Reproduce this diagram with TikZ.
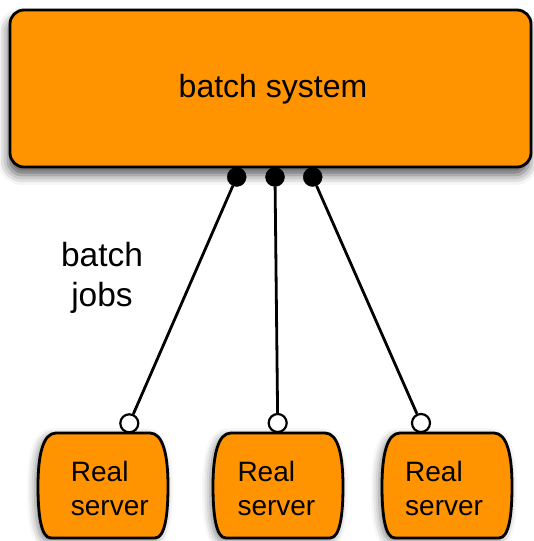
\documentclass[tikz,border=0pt]{standalone}
\usepackage{fontspec}
\setmainfont{Liberation Sans}
\usetikzlibrary{shadows.blur}
\definecolor{boxorange}{RGB}{255,147,0}
\tikzset{
  shade box/.style={blur shadow={shadow xshift=-2pt, shadow yshift=-8pt,
      shadow blur radius=10pt, shadow opacity=65}},
  shade server/.style={blur shadow={shadow xshift=-3pt, shadow yshift=-3pt,
      shadow blur radius=8pt, shadow opacity=50}},
  mainbox/.style={draw=black, line width=2.8pt, fill=boxorange,
      rounded corners=14pt, shade box},
  serverbody/.style={draw=black, line width=2.8pt, fill=boxorange, shade server},
  portfilled/.style={circle, fill=black, draw=black, inner sep=0pt, minimum size=19pt},
  portopen/.style={circle, fill=white, draw=black, line width=2.2pt, inner sep=0pt, minimum size=18pt},
  link/.style={draw=black, line width=2.8pt},
  titletext/.style={inner sep=0pt, font=\fontsize{32}{40}\selectfont},
  jobtext/.style={inner sep=0pt, font=\fontsize{33.5}{40}\selectfont},
  servertext/.style={inner sep=0pt, align=left, anchor=north west,
      font=\fontsize{28}{34}\selectfont},
}
% barrel-shaped server body centred at x = #1
\newcommand{\serverpath}[1]{%
  (#1-47,433) -- (#1+47,433)
  .. controls (#1+60,433) and (#1+65,455) .. (#1+65,486)
  .. controls (#1+65,515) and (#1+62,538) .. (#1+52,538)
  -- (#1-52,538)
  .. controls (#1-62,538) and (#1-65,515) .. (#1-65,486)
  .. controls (#1-65,455) and (#1-60,433) .. (#1-47,433) -- cycle}
\begin{document}
\begin{tikzpicture}[x=1pt,y=-1pt]
  \useasboundingbox (0,0) rectangle (533,541);

  % batch system box
  \node[mainbox, minimum width=521pt, minimum height=157pt, inner sep=0pt]
    (batch) at (270.5,88.5) {};
  \node[titletext, anchor=base] (batchlbl) at (273,97.5) {batch system};

  % real servers
  \path[serverbody] \serverpath{103};
  \path[serverbody] \serverpath{278};
  \path[serverbody] \serverpath{447};
  \node[servertext] (srv1) at (70.7,460.7) {Real\\server};
  \node[servertext] (srv2) at (237.3,460.7) {Real\\server};
  \node[servertext] (srv3) at (405,460.7) {Real\\server};

  % label
  \node[jobtext, align=center] (jobs) at (102,278) {batch\\jobs};

  % ports
  \node[portfilled] (d1) at (236.7,177) {};
  \node[portfilled] (d2) at (275,177) {};
  \node[portfilled] (d3) at (312.7,177) {};
  \node[portopen] (o1) at (129.3,423.3) {};
  \node[portopen] (o2) at (277.7,423) {};
  \node[portopen] (o3) at (421,423) {};

  % batch job connectors
  \draw[link] (d1) -- (o1);
  \draw[link] (d2) -- (o2);
  \draw[link] (d3) -- (o3);
\end{tikzpicture}
\end{document}
